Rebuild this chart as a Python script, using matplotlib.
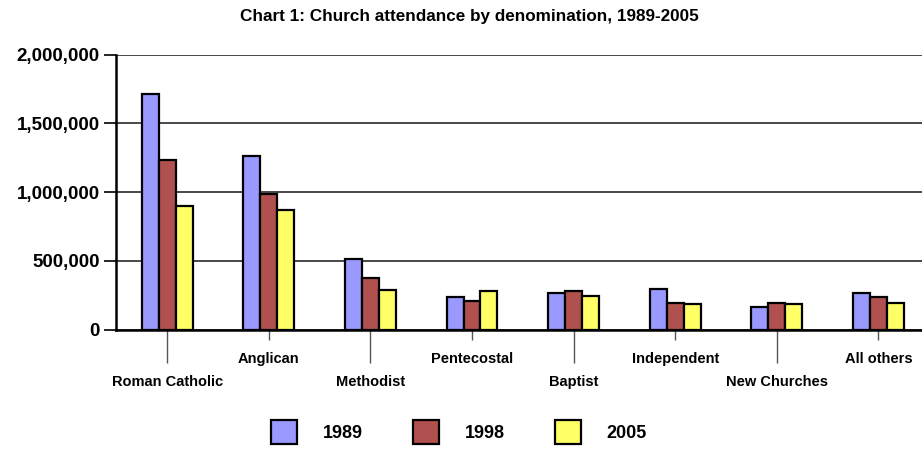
import matplotlib
matplotlib.use("Agg")
import matplotlib.pyplot as plt
import numpy as np

plt.rcParams['font.family'] = ['Liberation Sans', 'DejaVu Sans']

categories = ["Roman Catholic", "Anglican", "Methodist", "Pentecostal",
              "Baptist", "Independent", "New Churches", "All others"]
years = ["1989", "1998", "2005"]
v1989 = [1716000, 1264000, 510000, 238000, 268000, 293000, 165000, 268000]
v1998 = [1234000, 983000, 375000, 210000, 280000, 196000, 194000, 238000]
v2005 = [897000, 868000, 290000, 281000, 247000, 183000, 183000, 196000]
series = [v1989, v1998, v2005]
colors = ["#9999FF", "#B0504F", "#FFFF66"]
yticks = [0, 500000, 1000000, 1500000, 2000000]
ytick_labels = ["0", "500,000", "1,000,000", "1,500,000", "2,000,000"]

W, H = 922, 449
fig = plt.figure(figsize=(W / 100, H / 100), dpi=100)
left, right = 116.4 / W, 929.2 / W
bottom, top = 1 - 329.5 / H, 1 - 54.5 / H
ax = fig.add_axes([left, bottom, right - left, top - bottom])

x = np.arange(len(categories))
bw = 0.167
for i, (vals, c, lab) in enumerate(zip(series, colors, years)):
    ax.bar(x + (i - 1) * bw, vals, width=bw, color=c, edgecolor="black",
           linewidth=1.6, label=lab, zorder=3)

ax.set_xlim(-0.5, len(categories) - 0.5)
ax.set_ylim(0, 2000000)
ax.set_yticks(yticks, ytick_labels)
ax.yaxis.grid(True, color="#3a3a3a", linewidth=1.3, zorder=0)
ax.set_axisbelow(True)
for s in ["top", "right"]:
    ax.spines[s].set_visible(False)
for s in ["left", "bottom"]:
    ax.spines[s].set_linewidth(1.8)
    ax.spines[s].set_color("black")
ax.tick_params(axis="y", direction="out", length=9, width=1.2, pad=3,
               labelsize=13.5)
for t in ax.get_yticklabels():
    t.set_fontweight("bold")

# staggered category labels: even on major (long ticks), odd on minor (short)
ax.set_xticks(x[::2], [categories[i] for i in x[::2]])
ax.set_xticks(x[1::2], [categories[i] for i in x[1::2]], minor=True)
ax.tick_params(axis="x", which="major", direction="out", length=24, width=1.0,
               pad=9, labelsize=10.5, color="#555555")
ax.tick_params(axis="x", which="minor", direction="out", length=7.5, width=1.0,
               pad=9, labelsize=10.5, color="#555555")
for t in ax.get_xticklabels() + ax.get_xticklabels(minor=True):
    t.set_fontweight("bold")

fig.text(469 / W, 1 - 16 / H, "Chart 1: Church attendance by denomination, 1989-2005",
         ha="center", va="center", fontsize=12.3, fontweight="bold")

leg = fig.legend(loc="center", bbox_to_anchor=(0.498, 1 - 432 / H), ncol=3,
                 frameon=False, prop={"size": 13, "weight": "bold"},
                 handlelength=1.45, handleheight=1.75, handletextpad=1.4,
                 columnspacing=2.8)

fig.savefig("out.png", dpi=100)
